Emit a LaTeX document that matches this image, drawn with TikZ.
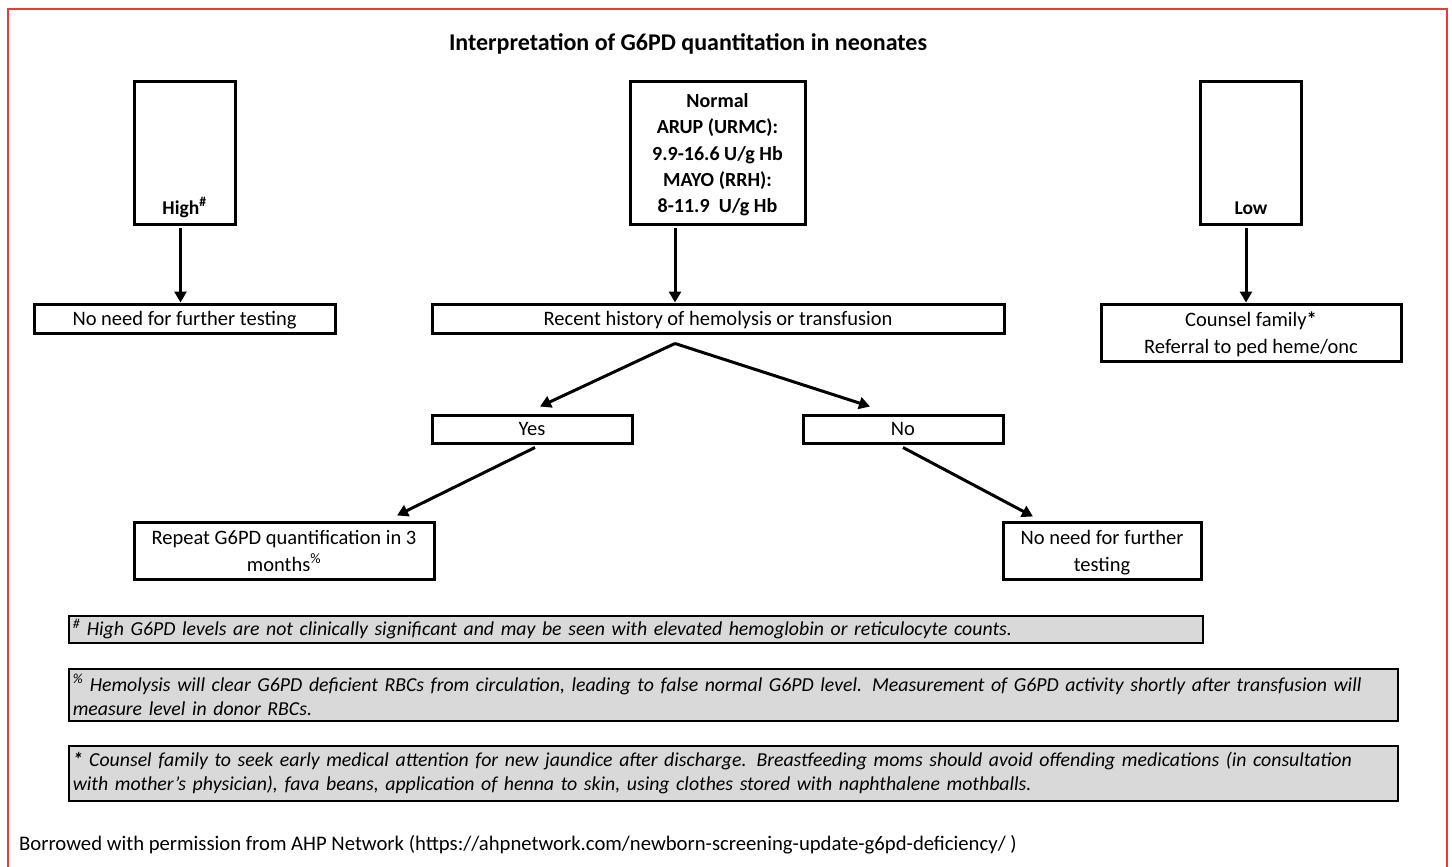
\documentclass[tikz,border=0pt]{standalone}
\usepackage{fontspec}
\setmainfont{Carlito}
\usetikzlibrary{positioning}
\usetikzlibrary{arrows.meta}

\definecolor{framered}{RGB}{232,58,58}
\definecolor{notegray}{RGB}{217,217,217}

\begin{document}
\begin{tikzpicture}[x=1pt,y=-1pt]
\tikzstyle{box}=[rectangle,align=center,draw,line width=3pt,inner sep=0pt,text depth=0pt,font=\fontsize{20.5}{27}\selectfont]
\tikzstyle{levelbox}=[box,minimum width=101pt,text height=128pt,text depth=6pt,inner ysep=4pt,font=\bfseries\fontsize{19.5}{26}\selectfont]
\tikzstyle{notebox}=[rectangle,draw,line width=1.5pt,fill=notegray,align=left,inner xsep=4pt,inner ysep=0pt,anchor=north west,font=\itshape\fontsize{19.8}{24}\selectfont]
\tikzstyle{arr}=[line width=3pt,-{Triangle[length=11pt,width=12pt]}]

\useasboundingbox (0,0) rectangle (1452,867);
\draw[framered,line width=2pt] (8,875) -- (8,9) -- (1447,9) -- (1447,875);

\node[font=\bfseries\fontsize{24}{28}\selectfont] (title) at (688,44) {Interpretation of G6PD quantitation in neonates};

% the three result levels
\node[levelbox] at (184.5,153) (high) {High\textsuperscript{\#}};
\node[box,minimum width=175pt,minimum height=142pt,text depth=-4pt,font=\bfseries\fontsize{20}{26.2}\selectfont] at (717.5,153) (normal) {Normal\\
                         ARUP (URMC):\\
                         9.9-16.6 U/g Hb\\
                         MAYO (RRH):\\
                         8-11.9~ U/g Hb};
\node[levelbox] at (1251,153) (low) {Low};

\node[box,minimum width=301pt,minimum height=29pt] at (184.5,318.5) (nneed) {No need for further testing};
\node[box,minimum width=572pt,minimum height=29pt] at (718,318.5) (hist) {Recent history of hemolysis or transfusion};
\node[box,minimum width=300pt,minimum height=57pt] at (1251,332.5) (counsel) {Counsel family\textbf{*}\\
                         Referral to ped heme/onc};

\node[box,minimum width=200pt,minimum height=28pt] at (532,429) (yes) {Yes};
\node[box,minimum width=200pt,minimum height=28pt] at (903,429) (no) {No};

\node[box,minimum width=300pt,minimum height=57pt] at (284,550.5) (repeat) {Repeat G6PD quantification in 3\\
                         months\textsuperscript{\%}};
\node[box,minimum width=198pt,minimum height=57pt] at (1102,550.5) (nneedb) {No need for further\\
                         testing};

\draw[arr] ([xshift=-4pt,yshift=-2pt]high.south) -- ([xshift=-4pt]nneed.north);
\draw[arr] ([xshift=-42.5pt,yshift=-2pt]normal.south) -- ([xshift=-43pt]hist.north);
\draw[arr] ([xshift=-5pt,yshift=-2pt]low.south) -- ([xshift=-5pt]counsel.north);
\draw[arr] ([xshift=-43pt,yshift=-9pt]hist.south) -- ([xshift=8pt,yshift=7pt]yes.north);
\draw[arr] ([xshift=-43pt,yshift=-9pt]hist.south) -- ([xshift=-33pt,yshift=7pt]no.north);
\draw[arr] ([xshift=3pt,yshift=-3pt]yes.south) -- ([xshift=113pt,yshift=5pt]repeat.north);
\draw[arr] ([yshift=-3pt]no.south) -- ([xshift=-69pt,yshift=4pt]nneedb.north);

% footnotes
\node[notebox,text width=1126pt,minimum height=27pt] at (68,615) (fnhigh) {\textsuperscript{\#} High G6PD levels are not clinically significant and may be seen with elevated hemoglobin or reticulocyte counts.};
\node[notebox,text width=1321pt,minimum height=52pt] at (68,668) (fnhemo) {\textsuperscript{\%} Hemolysis will clear G6PD deficient RBCs from circulation, leading to false normal G6PD level. Measurement of G6PD activity shortly after transfusion will\\
measure level in donor RBCs.};
\node[notebox,text width=1321pt,minimum height=55pt] at (68,745) (fncounsel) {\textbf{*} Counsel family to seek early medical attention for new jaundice after discharge. Breastfeeding moms should avoid offending medications (in consultation\\
with mother's physician), fava beans, application of henna to skin, using clothes stored with naphthalene mothballs.};

\node[anchor=west,inner sep=0pt,font=\fontsize{20.7}{26}\selectfont] at (19,845) (credit) {Borrowed with permission from AHP Network (https://ahpnetwork.com/newborn-screening-update-g6pd-deficiency/ )};
\end{tikzpicture}
\end{document}
